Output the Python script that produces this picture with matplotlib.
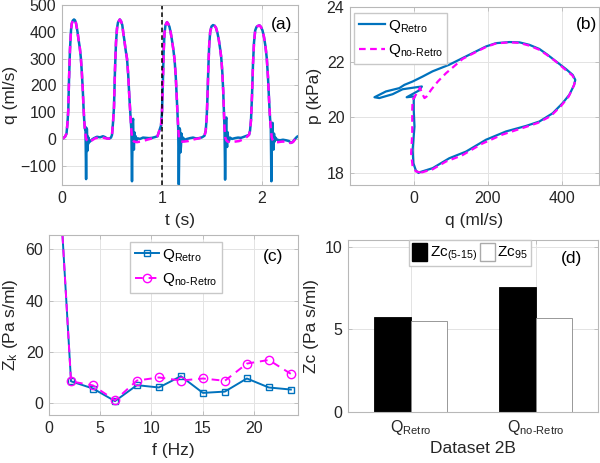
import matplotlib
matplotlib.use('Agg')
import matplotlib.pyplot as plt
from matplotlib.patches import Patch

plt.rcParams['font.family'] = ['Liberation Sans', 'DejaVu Sans']
plt.rcParams['mathtext.fontset'] = 'custom'
plt.rcParams['mathtext.rm'] = 'Liberation Sans'
plt.rcParams['mathtext.it'] = 'Liberation Sans:italic'

BLUE = '#0072BD'
MAG = '#FF00FF'
GRAY = '#262626'
HY = '\u2010'  # real hyphen inside mathtext subscripts

# ---- (a) flow waveform: main pulses are shared, tails differ ----
pulse = [
    (0.00, 0), (0.03, 8), (0.045, 20), (0.055, 60), (0.063, 110), (0.07, 220), (0.08, 335),
    (0.09, 405), (0.097, 430), (0.108, 442), (0.12, 446), (0.13, 443), (0.14, 432), (0.155, 400),
    (0.165, 372), (0.178, 340), (0.188, 305), (0.198, 250), (0.207, 190), (0.215, 120),
    (0.222, 70), (0.228, 40),
    (0.49, 5), (0.50, 15), (0.51, 60), (0.52, 120), (0.53, 260), (0.54, 360), (0.55, 412),
    (0.56, 435), (0.578, 446), (0.59, 440), (0.603, 425), (0.613, 395), (0.623, 370),
    (0.637, 330), (0.65, 300), (0.662, 240), (0.673, 160), (0.684, 90), (0.692, 40),
    (0.955, 10), (0.968, 25), (0.99, 50), (1.0, 100), (1.008, 200), (1.016, 320), (1.025, 395),
    (1.035, 425), (1.05, 436), (1.062, 430), (1.075, 418), (1.088, 395), (1.10, 368),
    (1.113, 335), (1.126, 295), (1.138, 230), (1.148, 150), (1.156, 80), (1.162, 40),
    (1.425, 12), (1.437, 30), (1.447, 80), (1.455, 160), (1.463, 260), (1.472, 350),
    (1.482, 400), (1.495, 420), (1.51, 425), (1.525, 423), (1.54, 415), (1.555, 395),
    (1.568, 370), (1.58, 340), (1.592, 305), (1.603, 250), (1.612, 180), (1.62, 100), (1.625, 40),
    (1.87, 15), (1.88, 30), (1.89, 70), (1.90, 160), (1.91, 280), (1.92, 360), (1.932, 405),
    (1.945, 418), (1.96, 422), (1.975, 424), (1.99, 418), (2.005, 405), (2.02, 380),
    (2.035, 345), (2.048, 300), (2.06, 230), (2.07, 150), (2.08, 80), (2.088, 40),
]
retro_tail = [
    (0.232, 35), (0.235, 45), (0.238, -60), (0.241, -150), (0.244, -20), (0.247, 40), (0.25, 35),
    (0.253, -45), (0.256, 10), (0.26, -20), (0.265, 5), (0.272, -12), (0.285, -8), (0.30, -2),
    (0.32, 3), (0.35, 8), (0.38, 6), (0.41, 10), (0.43, 7), (0.45, 2), (0.47, 1),
    (0.694, 30), (0.697, -60), (0.70, -158), (0.703, -50), (0.707, 65), (0.711, 75),
    (0.715, -15), (0.719, -40), (0.724, 25), (0.73, -5), (0.737, 10), (0.745, -5), (0.76, 2),
    (0.78, 0), (0.81, 5), (0.84, 4), (0.87, 3), (0.90, 4), (0.93, 7),
    (1.165, -60), (1.168, -170), (1.172, -40), (1.176, 40), (1.18, 35), (1.185, -50),
    (1.19, -25), (1.195, 20), (1.2, -10), (1.21, 5), (1.225, -3), (1.25, 0), (1.28, 3),
    (1.31, 5), (1.34, 2), (1.37, 3), (1.40, 6),
    (1.628, -40), (1.631, -152), (1.635, -20), (1.639, 70), (1.643, 80), (1.647, -10),
    (1.651, -30), (1.656, 25), (1.661, 0), (1.668, -10), (1.68, 5), (1.70, 0), (1.73, 3),
    (1.76, 5), (1.79, 4), (1.82, 8), (1.85, 12),
    (2.091, -60), (2.094, -158), (2.098, -30), (2.102, 55), (2.106, 60), (2.11, -20),
    (2.115, -40), (2.12, 20), (2.126, -10), (2.135, 5), (2.15, -3), (2.18, -5), (2.21, -3),
    (2.24, -5), (2.27, -8), (2.29, -15), (2.31, -10), (2.33, 0), (2.35, 8), (2.36, 10),
]
noretro_tail = [
    (0.238, 5), (0.248, -5), (0.26, -12), (0.28, -10), (0.30, -5), (0.33, 2), (0.36, 5),
    (0.40, 6), (0.44, 2), (0.47, 1),
    (0.70, 5), (0.71, -5), (0.72, -10), (0.75, -12), (0.78, -10), (0.81, -8), (0.85, -3),
    (0.90, 2), (0.93, 5),
    (1.17, 5), (1.18, -5), (1.19, -10), (1.22, -10), (1.26, -8), (1.30, -3), (1.34, 0),
    (1.38, 3), (1.40, 5),
    (1.633, 5), (1.643, -5), (1.655, -10), (1.69, -12), (1.73, -10), (1.77, -8), (1.81, -2),
    (1.85, 8),
    (2.098, 5), (2.108, -5), (2.12, -12), (2.16, -12), (2.20, -10), (2.24, -10), (2.28, -15),
    (2.31, -12), (2.33, -2), (2.35, 6), (2.36, 10),
]

# ---- (b) p-q loops (q ml/s, p kPa) ----
loop_retro = [
    (13, 18.0), (51, 18.16), (96, 18.52), (141, 18.76), (195, 19.19), (249, 19.49), (303, 19.69),
    (339, 19.85), (375, 20.15), (402, 20.52), (420, 20.82), (433, 21.18), (436, 21.36),
    (429, 21.54), (411, 21.75), (384, 22.03), (361, 22.27), (339, 22.48), (312, 22.63),
    (285, 22.72), (258, 22.73), (222, 22.69), (195, 22.57), (168, 22.39), (132, 22.15),
    (96, 21.91), (51, 21.67), (24, 21.48), (-3, 21.30), (-25, 21.18), (-39, 21.06),
    (-75, 20.94), (-106, 20.73), (-93, 20.70), (-57, 20.84), (-30, 21.02), (11, 21.10),
    (22, 21.12), (15, 20.98), (-19, 20.73), (2, 20.76), (0, 20.64), (0, 20.27), (2, 19.67),
    (-3, 18.82), (-1, 18.34), (6, 18.07), (13, 18.0),
]
loop_noretro = [
    (20, 18.0), (51, 18.12), (87, 18.4), (130, 18.62), (185, 19.05), (240, 19.38),
    (295, 19.62), (335, 19.8), (370, 20.05), (398, 20.42), (418, 20.75), (432, 21.15),
    (436, 21.34), (428, 21.52), (410, 21.72), (384, 22.02), (361, 22.25), (339, 22.45),
    (312, 22.6), (285, 22.7), (258, 22.72), (222, 22.68), (195, 22.55), (168, 22.37),
    (132, 22.12), (114, 21.91), (87, 21.6), (65, 21.3), (47, 21.0), (35, 20.76), (29, 20.7),
    (22, 20.88), (17, 21.08), (11, 20.94), (2, 20.73), (-3, 20.64), (-4, 20.27), (-4, 19.43),
    (-7, 18.7), (-3, 18.22), (6, 18.04), (20, 18.0),
]

# ---- (c) impedance spectrum ----
freq = [0, 2.15, 4.29, 6.44, 8.58, 10.73, 12.87, 15.02, 17.16, 19.31, 21.45, 23.6]
zk_retro = [155, 8.6, 5.8, 0.9, 7.1, 6.2, 10.6, 4.1, 4.6, 9.7, 6.2, 5.4]
zk_noretro = [155, 8.6, 7.0, 1.2, 8.9, 10.1, 8.9, 9.7, 8.8, 15.5, 16.9, 11.5]

# ---- (d) characteristic impedance ----
lab_retro = 'Q$_{\\mathrm{Retro}}$'
lab_noretro = 'Q$_{\\mathrm{no' + HY + 'Retro}}$'
groups = [lab_retro, lab_noretro]
zc_5_15 = [5.72, 7.53]
zc_95 = [5.5, 5.66]

W, H = 600, 463
fig = plt.figure(figsize=(6, 4.63), dpi=100)


def add_ax(l, r, t, b):
    return fig.add_axes([l / W, 1 - b / H, (r - l) / W, (b - t) / H])


def style(ax):
    ax.grid(True, color='#e3e3e3', lw=0.7)
    ax.set_axisbelow(True)
    for s in ax.spines.values():
        s.set_color('#b8b8b8')
        s.set_linewidth(0.8)
    ax.tick_params(direction='in', length=3, width=0.6, color='#b8b8b8',
                   labelsize=11.5, labelcolor=GRAY, pad=4, top=True, right=True)


FS = 12.5

# (a)
axa = add_ax(62, 298, 5, 185)
style(axa)
ta, qa = zip(*sorted(pulse + retro_tail))
tb, qb = zip(*sorted(pulse + noretro_tail))
axa.plot(ta, qa, color=BLUE, lw=1.8)
axa.plot(tb, qb, color=MAG, lw=1.8, ls=(0, (3, 2)))
axa.axvline(1.0, color='k', lw=1.1, ls=(0, (3, 2)))
axa.set_xlim(0, 2.36)
axa.set_ylim(-172, 500)
axa.set_xticks([0, 1, 2])
axa.set_yticks([-100, 0, 100, 200, 300, 400, 500])
axa.set_xlabel('t (s)', fontsize=FS, color=GRAY, labelpad=5)
axa.set_ylabel('q (ml/s)', fontsize=FS, color=GRAY, labelpad=2)
axa.text(0.93, 0.89, '(a)', transform=axa.transAxes, ha='center', va='center', fontsize=12.5)

# (b)
axb = add_ax(350, 599, 7, 185)
style(axb)
qr, pr = zip(*loop_retro)
qn, pn = zip(*loop_noretro)
axb.plot(qr, pr, color=BLUE, lw=1.6, label=lab_retro)
axb.plot(qn, pn, color=MAG, lw=1.6, ls=(0, (3, 2)), label=lab_noretro)
axb.set_xlim(-172, 500)
axb.set_ylim(17.55, 24)
axb.set_xticks([0, 200, 400])
axb.set_yticks([18, 20, 22, 24])
axb.set_xlabel('q (ml/s)', fontsize=FS, color=GRAY, labelpad=5)
axb.set_ylabel('p (kPa)', fontsize=FS, color=GRAY, labelpad=3)
axb.legend(loc='upper left', bbox_to_anchor=(0.016, 0.966), borderaxespad=0, fontsize=11,
           fancybox=False, edgecolor='#c8c8c8', framealpha=1, handlelength=1.7,
           handletextpad=0.2, borderpad=0.3, labelspacing=0.5)
axb.text(0.948, 0.9, '(b)', transform=axb.transAxes, ha='center', va='center', fontsize=12.5)

# (c)
axc = add_ax(49, 298, 235, 415)
style(axc)
axc.plot(freq, zk_retro, color=BLUE, lw=1.4, marker='s', ms=5, mfc='none', mew=1.0,
         label=lab_retro)
axc.plot(freq, zk_noretro, color=MAG, lw=1.4, ls=(0, (4, 3)), marker='o', ms=6, mfc='none',
         mew=1.0, label=lab_noretro)
axc.set_xlim(0, 24.3)
axc.set_ylim(-4.5, 65.5)
axc.set_xticks([0, 5, 10, 15, 20])
axc.set_yticks([0, 20, 40, 60])
axc.set_xlabel('f (Hz)', fontsize=FS, color=GRAY, labelpad=5)
axc.set_ylabel('Z$_\\mathrm{k}$ (Pa s/ml)', fontsize=FS, color=GRAY, labelpad=4)
axc.legend(loc='upper left', bbox_to_anchor=(0.325, 0.961), borderaxespad=0, fontsize=11,
           fancybox=False, edgecolor='#c8c8c8', framealpha=1, handlelength=1.6,
           handletextpad=0.2, borderpad=0.3, labelspacing=0.5)
axc.text(0.9, 0.878, '(c)', transform=axc.transAxes, ha='center', va='center', fontsize=12.5)

# (d)
axd = add_ax(348, 598, 240, 412)
style(axd)
pos = [1, 2]
bw = 0.29
axd.bar([p - bw / 2 for p in pos], zc_5_15, width=bw, color='black', edgecolor='black', lw=0.6)
axd.bar([p + bw / 2 for p in pos], zc_95, width=bw, color='white', edgecolor='#888888', lw=0.6)
axd.set_xlim(0.5, 2.5)
axd.set_ylim(0, 10.4)
axd.set_xticks(pos)
axd.set_xticklabels(groups)
axd.set_yticks([0, 5, 10])
axd.set_xlabel('Dataset 2B', fontsize=FS, color=GRAY, labelpad=3)
axd.set_ylabel('Zc (Pa s/ml)', fontsize=FS, color=GRAY, labelpad=4)
handles = [Patch(facecolor='black', edgecolor='black'),
           Patch(facecolor='white', edgecolor='#aaaaaa')]
axd.legend(handles, ['Zc$_{(5' + HY + '15)}$', 'Zc$_{95}$'],
           loc='upper left', bbox_to_anchor=(0.244, 1.0), borderaxespad=0, ncol=2,
           fontsize=11, fancybox=False, edgecolor='#c8c8c8', framealpha=1,
           handlelength=1.0, handleheight=1.4, handletextpad=0.15, columnspacing=0.2,
           borderpad=0.2)
axd.text(0.896, 0.895, '(d)', transform=axd.transAxes, ha='center', va='center', fontsize=12.5)

fig.savefig('out.png', dpi=100)
